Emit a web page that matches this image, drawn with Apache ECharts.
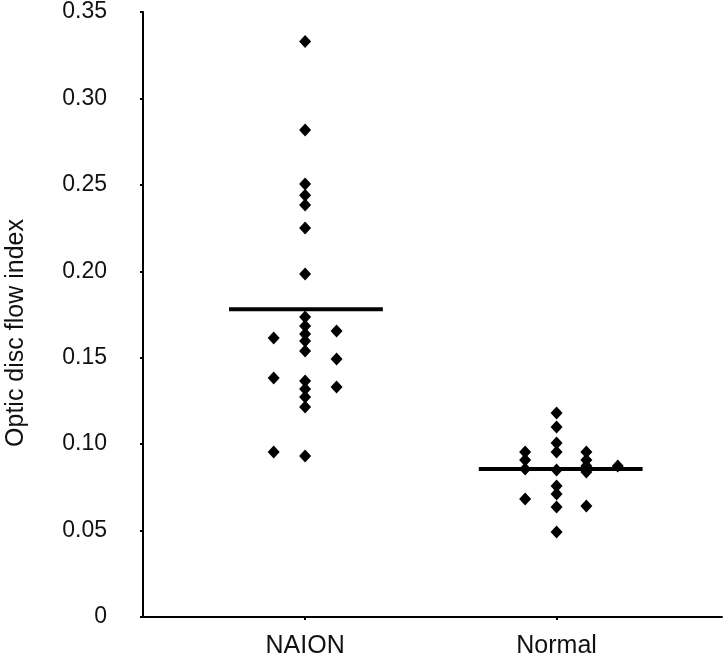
<!DOCTYPE html>
<html>
<head>
<meta charset="utf-8">
<script src="https://cdn.jsdelivr.net/npm/echarts@6/dist/echarts.min.js"></script>
<style>html,body{margin:0;padding:0;background:#fff}#c{width:725px;height:665px}</style>
</head>
<body>
<div id="c"></div>
<script>
// Category positions on the x value axis
const categories = ['NAION', 'Normal'];
const categoryX = [0.98, 2.5];
const yTicks = ['0', '0.05', '0.10', '0.15', '0.20', '0.25', '0.30', '0.35'];

// NAION group (columns of the dot plot)
const naionCenterX = 0.98, naionLeftX = 0.79, naionRightX = 1.17;
const naionCenter = [0.333, 0.2817, 0.2505, 0.244, 0.2383, 0.225, 0.1984,
  0.1736, 0.1683, 0.1637, 0.1597, 0.1539, 0.1365, 0.1319, 0.1273, 0.1215, 0.0931];
const naionLeft = [0.1614, 0.1383, 0.0955];
const naionRight = [0.1655, 0.1493, 0.1331];
const naionMean = 0.178;

// Normal group
const normalLeftX = 2.31, normalCenterX = 2.5, normalRightX = 2.68, normalFarX = 2.87;
const normalLeft = [0.0955, 0.0908, 0.0856, 0.0683];
const normalCenter = [0.118, 0.1099, 0.1007, 0.0955, 0.085, 0.0758, 0.0712, 0.0636, 0.0492];
const normalRight = [0.0955, 0.0908, 0.0874, 0.0839, 0.0642];
const normalFar = [0.0874];
const normalMean = 0.0856;

// mean line extents (x)
const naionMeanX = [0.52, 1.45];
const normalMeanX = [2.03, 3.02];

function col(x, arr) { return arr.map(v => [x, v]); }
const naionPts = [].concat(col(naionCenterX, naionCenter), col(naionLeftX, naionLeft), col(naionRightX, naionRight));
const normalPts = [].concat(col(normalLeftX, normalLeft), col(normalCenterX, normalCenter), col(normalRightX, normalRight), col(normalFarX, normalFar));

const chart = echarts.init(document.getElementById('c'));
const font = 'Liberation Sans, Arial, sans-serif';
chart.setOption({
  animation: false,
  grid: { left: 143, right: 3, top: 12, bottom: 48 },
  xAxis: {
    type: 'value', min: 0, max: 3.5,
    splitLine: { show: false },
    axisLine: { lineStyle: { color: '#000', width: 2 } },
    axisTick: { show: true, length: 3, inside: false, customValues: categoryX, lineStyle: { color: '#000', width: 2 } },
    axisLabel: {
      customValues: categoryX,
      formatter: v => { const i = categoryX.findIndex(c => Math.abs(c - v) < 1e-6); return i >= 0 ? categories[i] : ''; },
      fontSize: 25, color: '#111', fontFamily: font, margin: 17
    }
  },
  yAxis: {
    type: 'value', min: 0, max: 0.35, interval: 0.05,
    splitLine: { show: false },
    axisLine: { show: true, lineStyle: { color: '#000', width: 2 } },
    axisTick: { show: true, length: 3, lineStyle: { color: '#000', width: 2 } },
    axisLabel: {
      formatter: v => yTicks[Math.round(v / 0.05)],
      fontSize: 23, color: '#111', fontFamily: font, margin: 36, padding: [4, 0, 0, 0]
    }
  },
  graphic: [{
    type: 'text', x: 16, y: 333, rotation: Math.PI / 2,
    style: { text: 'Optic disc flow index', fontSize: 25, fontFamily: font, fill: '#111', align: 'center', verticalAlign: 'middle' }
  }],
  series: [
    { type: 'line', data: naionMeanX.map(x => [x, naionMean]), symbol: 'none', lineStyle: { color: '#000', width: 4 }, z: 3 },
    { type: 'line', data: normalMeanX.map(x => [x, normalMean]), symbol: 'none', lineStyle: { color: '#000', width: 4 }, z: 3 },
    { type: 'scatter', data: naionPts, symbol: 'diamond', symbolSize: [12, 13], itemStyle: { color: '#000', opacity: 1 }, z: 4 },
    { type: 'scatter', data: normalPts, symbol: 'diamond', symbolSize: [12, 13], itemStyle: { color: '#000', opacity: 1 }, z: 4 }
  ]
});
</script>
</body>
</html>
